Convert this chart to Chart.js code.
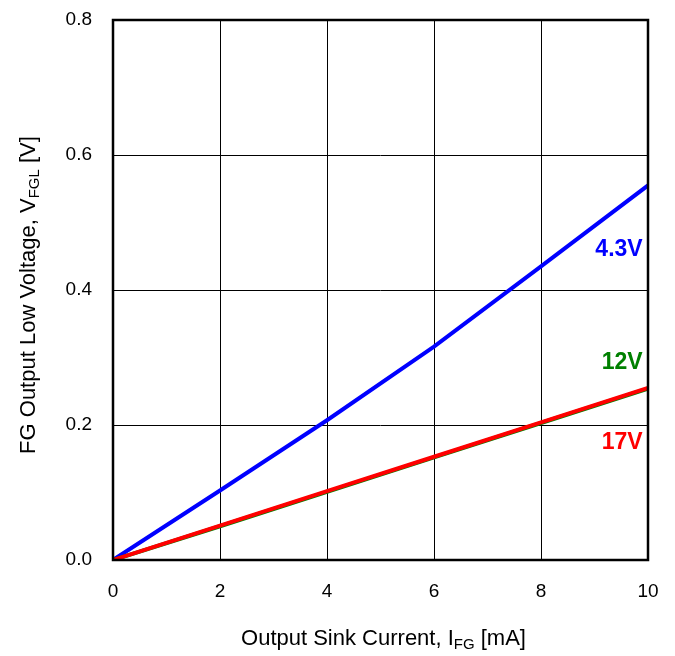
<!DOCTYPE html>
<html>
<head>
<meta charset="utf-8">
<script src="https://cdn.jsdelivr.net/npm/chart.js@4/dist/chart.umd.min.js"></script>
<style>
  html, body { margin: 0; padding: 0; background: #fff; }
  #wrap { width: 675px; height: 656px; }
</style>
</head>
<body>
<div id="wrap"><canvas id="fgChart" width="675" height="656"></canvas></div>
<script>
// sink current [mA]
const currents = [0, 2, 4, 6, 8, 10];
// output low voltage [V] per supply voltage
const v43 = [0, 0.103, 0.207, 0.316, 0.435, 0.555];
const v12 = [0, 0.050, 0.101, 0.152, 0.203, 0.254];
const v17 = [0, 0.051, 0.102, 0.153, 0.204, 0.255];
const seriesLabels = ["4.3V", "12V", "17V"];
const seriesColors = ["#0000ff", "#008000", "#ff0000"];
// where the series names sit (data coords)
const labelPos = [[9.9, 0.46], [9.9, 0.293], [9.9, 0.174]];

const xTicks = [0, 2, 4, 6, 8, 10];
const yTicks = [0, 0.2, 0.4, 0.6, 0.8];

const toPts = (ys) => currents.map((x, i) => ({ x: x, y: ys[i] }));

const FONT = "'Liberation Sans', Arial, sans-serif";

// box, axis titles with subscripts, series labels
const decorations = {
  id: "decorations",
  afterDatasetsDraw(chart) {
    const ctx = chart.ctx;
    const a = chart.chartArea;
    const xs = chart.scales.x, ys = chart.scales.y;
    ctx.save();
    ctx.strokeStyle = "#000";
    ctx.lineWidth = 2.5;
    ctx.strokeRect(a.left, a.top, a.right - a.left, a.bottom - a.top);

    // series labels
    ctx.font = "bold 23px " + FONT;
    ctx.textAlign = "right";
    ctx.textBaseline = "middle";
    seriesLabels.forEach((t, i) => {
      ctx.fillStyle = seriesColors[i];
      ctx.fillText(t, xs.getPixelForValue(labelPos[i][0]), ys.getPixelForValue(labelPos[i][1]));
    });

    // axis titles
    ctx.fillStyle = "#000";
    ctx.textAlign = "left";
    ctx.textBaseline = "alphabetic";
    const drawTitle = (parts, x, y) => {
      let w = 0;
      parts.forEach(p => { ctx.font = p[1] ? "15px " + FONT : "22px " + FONT; w += ctx.measureText(p[0]).width; });
      let cx = x - w / 2;
      parts.forEach(p => {
        ctx.font = p[1] ? "15px " + FONT : "22px " + FONT;
        ctx.fillText(p[0], cx, y + (p[1] ? 4 : 0));
        cx += ctx.measureText(p[0]).width;
      });
    };
    drawTitle([["Output Sink Current, I", 0], ["FG", 1], [" [mA]", 0]], (a.left + a.right) / 2 + 3, 645);

    ctx.translate(35, (a.top + a.bottom) / 2 + 5);
    ctx.rotate(-Math.PI / 2);
    drawTitle([["FG Output Low Voltage, V", 0], ["FGL", 1], [" [V]", 0]], 0, 0);
    ctx.restore();
  }
};

new Chart(document.getElementById("fgChart"), {
  type: "scatter",
  data: {
    datasets: [
      { label: seriesLabels[0], data: toPts(v43), borderColor: seriesColors[0], order: 2 },
      { label: seriesLabels[1], data: toPts(v12), borderColor: seriesColors[1], order: 1 },
      { label: seriesLabels[2], data: toPts(v17), borderColor: seriesColors[2], order: 0 },
    ].map(d => Object.assign(d, { showLine: true, borderWidth: 4, pointRadius: 0, tension: 0 }))
  },
  options: {
    responsive: false,
    animation: false,
    layout: { padding: { left: 0, top: 20, right: 27, bottom: 0 } },
    plugins: { legend: { display: false }, tooltip: { enabled: false } },
    scales: {
      x: {
        type: "linear", min: 0, max: 10,
        afterBuildTicks: (s) => { s.ticks = xTicks.map(v => ({ value: v })); },
        afterFit: (s) => { s.height = 96; s.paddingLeft = 0; s.paddingRight = 0; },
        grid: { color: "#000", lineWidth: 1, drawTicks: false },
        border: { display: false },
        ticks: { color: "#000", padding: 20, font: { size: 19, family: FONT }, maxRotation: 0 }
      },
      y: {
        type: "linear", min: 0, max: 0.8,
        afterBuildTicks: (s) => { s.ticks = yTicks.map(v => ({ value: v })); },
        afterFit: (s) => { s.width = 113; s.paddingTop = 0; s.paddingBottom = 0; },
        grid: { color: "#000", lineWidth: 1, drawTicks: false },
        border: { display: false },
        ticks: { color: "#000", padding: 21, font: { size: 19, family: FONT }, callback: (v) => v.toFixed(1) }
      }
    }
  },
  plugins: [decorations]
});
</script>
</body>
</html>
